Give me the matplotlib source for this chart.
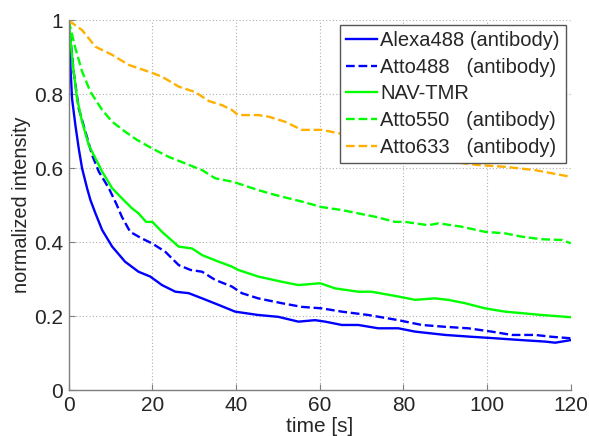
import matplotlib
matplotlib.use("Agg")
import matplotlib.pyplot as plt

plt.rcParams['font.family'] = ['Liberation Sans', 'DejaVu Sans']

# Photobleaching decay curves (time in s, normalized intensity)
alexa488_t = [0, 0.4, 0.8, 1.6, 2.4, 3.2, 4.4, 5.2, 6.4, 8, 10.4, 13.5, 16.7, 19.5, 22.3,
              25.5, 28.7, 31.9, 35.9, 39.8, 45.3, 50.1, 54.9, 58.9, 61.3, 65.3, 69.2, 74,
              78.8, 82.8, 90, 96.3, 101.9, 108.3, 113.9, 116.3, 120]
alexa488_v = [1.0, 0.88, 0.789, 0.717, 0.654, 0.60, 0.546, 0.514, 0.478, 0.433, 0.388,
              0.347, 0.32, 0.307, 0.284, 0.266, 0.262, 0.248, 0.23, 0.212, 0.203, 0.198,
              0.185, 0.189, 0.185, 0.176, 0.176, 0.167, 0.167, 0.158, 0.149, 0.144, 0.14,
              0.135, 0.131, 0.128, 0.135]

atto488_t = [0, 1.2, 2.4, 4, 5.6, 7.2, 9.6, 11.5, 12.7, 14.7, 17.5, 19.9, 23.1, 26.3, 29.1,
             31.9, 35, 39, 41.4, 45.3, 50.9, 55.7, 60.5, 65.3, 71.6, 78.8, 84.4, 90, 95.5,
             101.1, 105.9, 111.5, 115.5, 120]
atto488_v = [1.0, 0.86, 0.762, 0.699, 0.636, 0.591, 0.546, 0.501, 0.469, 0.428, 0.41, 0.397,
             0.374, 0.338, 0.325, 0.32, 0.298, 0.28, 0.262, 0.248, 0.235, 0.225, 0.221,
             0.212, 0.203, 0.189, 0.176, 0.171, 0.167, 0.158, 0.149, 0.149, 0.144, 0.14]

navtmr_t = [0, 1, 2, 3.2, 4.8, 6.4, 8, 10.4, 12.7, 15.1, 16.7, 18.5, 20, 22.3, 26.3, 29.5,
            31.9, 35.9, 39, 40.5, 45.3, 50.9, 54.9, 60.1, 63.7, 69.2, 72.4, 78.8, 82.8,
            87.6, 90.7, 94.7, 99.5, 104.3, 108.3, 113, 120]
navtmr_v = [1.0, 0.88, 0.789, 0.726, 0.663, 0.627, 0.591, 0.546, 0.519, 0.492, 0.478,
            0.455, 0.455, 0.428, 0.388, 0.383, 0.365, 0.347, 0.334, 0.325, 0.307, 0.293,
            0.284, 0.289, 0.275, 0.266, 0.266, 0.253, 0.244, 0.248, 0.244, 0.235, 0.221,
            0.212, 0.208, 0.203, 0.197]

atto550_t = [0, 1.6, 3.2, 5.2, 8, 10.4, 13.5, 16.3, 19.9, 23.9, 27.9, 31.9, 35, 39, 40.5,
             45.3, 49.3, 55.7, 60.5, 65.3, 69.2, 73.2, 78, 80.4, 85.9, 88.4, 93.9, 99.5,
             104.3, 108.3, 113, 117.9, 120]
atto550_v = [1.0, 0.925, 0.862, 0.807, 0.758, 0.726, 0.699, 0.677, 0.654, 0.631, 0.613,
             0.595, 0.573, 0.564, 0.559, 0.541, 0.528, 0.51, 0.495, 0.487, 0.478, 0.469,
             0.455, 0.455, 0.446, 0.451, 0.442, 0.428, 0.424, 0.415, 0.408, 0.406, 0.397]

atto633_t = [0, 3.2, 6.4, 10.4, 14.3, 19.5, 22.3, 26.3, 30.3, 33.5, 36.6, 39, 40.5, 45.3,
             47.7, 51.7, 55.7, 60.5, 64.5, 72, 80, 89.5, 97.8, 104.3, 111.5, 120]
atto633_v = [1.0, 0.974, 0.929, 0.907, 0.88, 0.86, 0.848, 0.821, 0.806, 0.782, 0.771,
             0.758, 0.744, 0.744, 0.74, 0.726, 0.704, 0.704, 0.695, 0.675, 0.65, 0.62,
             0.609, 0.604, 0.595, 0.577]

labels = ["Alexa488 (antibody)", "Atto488   (antibody)", "NAV-TMR",
          "Atto550   (antibody)", "Atto633   (antibody)"]
x_ticks = [0, 20, 40, 60, 80, 100, 120]
y_ticks = [0, 0.2, 0.4, 0.6, 0.8, 1.0]
y_ticklabels = ["0", "0.2", "0.4", "0.6", "0.8", "1"]

fig = plt.figure(figsize=(5.89, 4.36), dpi=100)
ax = fig.add_axes([0.1166, 0.1055, 0.9690 - 0.1166, 0.953 - 0.1055])

lw = 1.7
blue, green, orange = "#0000ff", "#00ff00", "#ffb000"
ax.plot(alexa488_t, alexa488_v, color=blue, lw=lw, ls='-', label=labels[0])
ax.plot(atto488_t, atto488_v, color=blue, lw=lw, ls='--', label=labels[1])
ax.plot(navtmr_t, navtmr_v, color=green, lw=lw, ls='-', label=labels[2])
ax.plot(atto550_t, atto550_v, color=green, lw=lw, ls='--', label=labels[3])
ax.plot(atto633_t, atto633_v, color=orange, lw=lw, ls='--', label=labels[4])

ax.set_xlim(0, 120)
ax.set_ylim(0, 1)
ax.set_xticks(x_ticks)
ax.set_yticks(y_ticks)
ax.set_yticklabels(y_ticklabels)

axis_gray = "#7f7f7f"
text_col = "#262626"
for side in ("top", "right"):
    ax.spines[side].set_visible(False)
for side in ("left", "bottom"):
    ax.spines[side].set_color(axis_gray)
    ax.spines[side].set_linewidth(1.0)
ax.tick_params(direction='in', length=4, width=0.8, color=axis_gray,
               labelsize=15, labelcolor=text_col)
ax.tick_params(axis='x', pad=4.5)
ax.tick_params(axis='y', pad=4)
ax.grid(True, ls=(0, (1, 2)), color="#b0b0b0", lw=0.8)
ax.set_axisbelow(True)

ax.set_xlabel("time [s]", fontsize=15, color=text_col, labelpad=1)
ax.set_ylabel("normalized intensity", fontsize=14.3, color=text_col, labelpad=2)

leg = ax.legend(loc='upper right', bbox_to_anchor=(566 / 589, 1 - 25 / 436),
                bbox_transform=fig.transFigure, borderaxespad=0,
                prop={'size': 14.5}, frameon=True, fancybox=False, framealpha=1,
                handlelength=1.55, handletextpad=0.15, labelspacing=0.38,
                borderpad=0.3)
leg.get_frame().set_edgecolor("#555555")
leg.get_frame().set_linewidth(1.0)
for t in leg.get_texts():
    t.set_color(text_col)

fig.savefig("out.png", dpi=100)
